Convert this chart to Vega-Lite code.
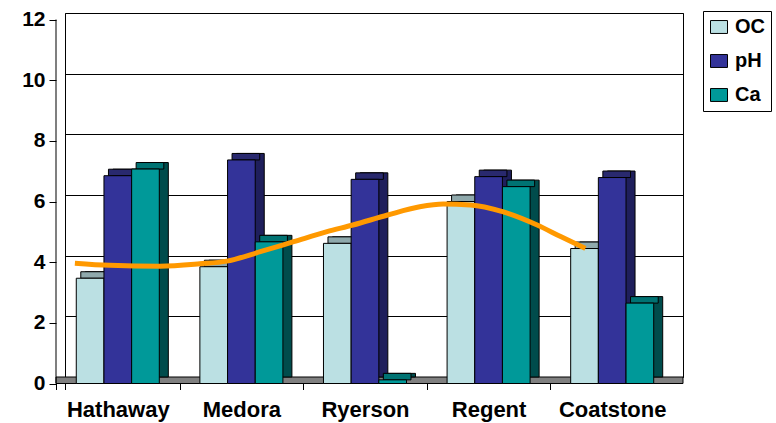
{
  "$schema": "https://vega.github.io/schema/vega-lite/v6.json",
  "width": 618,
  "height": 364,
  "autosize": {"type": "none"},
  "padding": {"left": 65, "top": 13, "right": 93, "bottom": 46},
  "background": "white",
  "config": {
    "font": "Liberation Sans",
    "view": {"stroke": "black", "strokeWidth": 1},
    "axis": {"labelFont": "Liberation Sans", "labelFontWeight": "bold", "labelColor": "black", "tickColor": "black", "domainColor": "black", "title": null}
  },
  "datasets": {
    "soil": [
      {"site": "Hathaway", "series": "OC", "value": 3.47},
      {"site": "Hathaway", "series": "pH", "value": 6.85},
      {"site": "Hathaway", "series": "Ca", "value": 7.07},
      {"site": "Medora", "series": "OC", "value": 3.85},
      {"site": "Medora", "series": "pH", "value": 7.37},
      {"site": "Medora", "series": "Ca", "value": 4.67},
      {"site": "Ryerson", "series": "OC", "value": 4.62},
      {"site": "Ryerson", "series": "pH", "value": 6.73},
      {"site": "Ryerson", "series": "Ca", "value": 0.12},
      {"site": "Regent", "series": "OC", "value": 6.0},
      {"site": "Regent", "series": "pH", "value": 6.82},
      {"site": "Regent", "series": "Ca", "value": 6.49},
      {"site": "Coatstone", "series": "OC", "value": 4.45},
      {"site": "Coatstone", "series": "pH", "value": 6.79},
      {"site": "Coatstone", "series": "Ca", "value": 2.65}
    ],
    "trend": [
      {"pos": -0.42, "value": 3.75},
      {"pos": -0.14, "value": 3.68},
      {"pos": 0.27, "value": 3.65},
      {"pos": 0.59, "value": 3.73},
      {"pos": 0.81, "value": 3.82},
      {"pos": 1.08, "value": 4.13},
      {"pos": 1.35, "value": 4.46},
      {"pos": 1.62, "value": 4.79},
      {"pos": 1.83, "value": 5.01},
      {"pos": 2.11, "value": 5.34},
      {"pos": 2.37, "value": 5.61},
      {"pos": 2.56, "value": 5.7},
      {"pos": 2.78, "value": 5.67},
      {"pos": 3.04, "value": 5.45},
      {"pos": 3.32, "value": 5.01},
      {"pos": 3.51, "value": 4.63},
      {"pos": 3.71, "value": 4.24}
    ]
  },
  "layer": [
    {
      "description": "floor of the 3D plot",
      "data": {"values": [{}]},
      "mark": {"type": "rect", "fill": "#808080", "stroke": "black", "strokeWidth": 1, "xOffset": -9, "x2Offset": 0, "y2Offset": 6.5},
      "encoding": {
        "x": {"datum": -0.5, "type": "quantitative", "scale": {"domain": [-0.5, 4.5], "nice": false, "zero": false}, "axis": null},
        "x2": {"datum": 4.5},
        "y": {"datum": 0, "type": "quantitative", "scale": {"domain": [0, 12], "nice": false}, "axis": null},
        "y2": {"datum": 0}
      }
    },
    {
      "description": "front edge of the value axis",
      "data": {"values": [{}]},
      "mark": {"type": "rect", "fill": "black", "xOffset": -9.5, "x2Offset": -8.5, "yOffset": 6.5, "y2Offset": 6.5},
      "encoding": {
        "x": {"datum": -0.5, "type": "quantitative", "scale": {"domain": [-0.5, 4.5], "nice": false, "zero": false}, "axis": null},
        "x2": {"datum": -0.5},
        "y": {"datum": 12, "type": "quantitative", "scale": {"domain": [0, 12], "nice": false}, "axis": null},
        "y2": {"datum": 0}
      }
    },
    {
      "description": "back/side face of each bar",
      "data": {"name": "soil"},
      "mark": {"type": "bar", "stroke": "black", "strokeWidth": 1},
      "encoding": {
        "x": {"field": "site", "type": "nominal", "sort": null, "scale": {"paddingInner": 0, "paddingOuter": 0}, "axis": null},
        "xOffset": {"field": "series", "type": "nominal", "sort": ["OC", "pH", "Ca"], "scale": {"paddingInner": 0, "paddingOuter": 0.733, "align": 0.5}},
        "y": {"field": "value", "type": "quantitative", "stack": null, "scale": {"domain": [0, 12], "nice": false},
          "axis": {"orient": "left", "values": [0, 2, 4, 6, 8, 10, 12], "grid": true, "gridColor": "black", "gridWidth": 1, "gridOpacity": 1, "labels": false, "ticks": false, "domain": false}},
        "y2": {"datum": 0},
        "fill": {
          "condition": [
            {"test": "datum.series === 'OC'", "value": "#6F8B8D"},
            {"test": "datum.series === 'pH'", "value": "#1F1F5C"}
          ],
          "value": "#004C4C"
        }
      }
    },
    {
      "description": "top face of each bar",
      "data": {"name": "soil"},
      "mark": {"type": "bar", "stroke": "black", "strokeWidth": 1, "y2Offset": 6.5},
      "encoding": {
        "x": {"field": "site", "type": "nominal", "sort": null, "scale": {"paddingInner": 0, "paddingOuter": 0}, "axis": null},
        "xOffset": {"field": "series", "type": "nominal", "sort": ["OC", "pH", "Ca"], "scale": {"paddingInner": 0, "paddingOuter": 0.733, "align": 0.389}},
        "y": {"field": "value", "type": "quantitative", "stack": null, "scale": {"domain": [0, 12], "nice": false}, "axis": null},
        "y2": {"field": "value"},
        "fill": {
          "condition": [
            {"test": "datum.series === 'OC'", "value": "#8FA9AC"},
            {"test": "datum.series === 'pH'", "value": "#29296E"}
          ],
          "value": "#007373"
        }
      }
    },
    {
      "description": "front face of each bar",
      "data": {"name": "soil"},
      "mark": {"type": "bar", "stroke": "black", "strokeWidth": 1, "yOffset": 6.5, "y2Offset": 6.5},
      "encoding": {
        "x": {"field": "site", "type": "nominal", "sort": null, "scale": {"paddingInner": 0, "paddingOuter": 0},
          "axis": {"orient": "bottom", "offset": 6.5, "bandPosition": 0, "tickExtra": true, "tickOffset": -9, "labelOffset": 0, "domain": false, "tickSize": 6, "labelFontSize": 22, "labelPadding": 10, "labelAngle": 0}},
        "xOffset": {"field": "series", "type": "nominal", "sort": ["OC", "pH", "Ca"], "scale": {"paddingInner": 0, "paddingOuter": 0.733, "align": 0.278}},
        "y": {"field": "value", "type": "quantitative", "stack": null, "scale": {"domain": [0, 12], "nice": false},
          "axis": {"orient": "left", "offset": 9, "values": [0, 2, 4, 6, 8, 10, 12], "grid": false, "domain": false, "tickOffset": 6.5, "labelOffset": 0, "tickSize": 7, "labelFontSize": 21, "labelPadding": 4}},
        "y2": {"datum": 0},
        "color": {
          "field": "series", "type": "nominal", "sort": ["OC", "pH", "Ca"],
          "scale": {"domain": ["OC", "pH", "Ca"], "range": ["#BBE0E3", "#333399", "#009999"]},
          "legend": {
            "orient": "none", "legendX": 638, "legendY": -2, "title": null, "direction": "vertical",
            "symbolType": "M-1,-0.76L1,-0.76L1,0.76L-1,0.76Z", "symbolSize": 289, "symbolStrokeColor": "black", "symbolStrokeWidth": 1,
            "labelFont": "Liberation Sans", "labelFontWeight": "bold", "labelFontSize": 20, "labelColor": "black", "labelOffset": 6,
            "strokeColor": "black", "fillColor": "white", "padding": 6, "rowPadding": 14
          }
        }
      }
    },
    {
      "description": "smoothed OC trend",
      "data": {"name": "trend"},
      "mark": {"type": "line", "color": "#FF9900", "strokeWidth": 5, "interpolate": "monotone", "strokeCap": "butt"},
      "encoding": {
        "x": {"field": "pos", "type": "quantitative", "scale": {"domain": [-0.5, 4.5], "nice": false, "zero": false}, "axis": null},
        "y": {"field": "value", "type": "quantitative", "scale": {"domain": [0, 12], "nice": false}, "axis": null}
      }
    }
  ],
  "resolve": {"scale": {"x": "independent", "xOffset": "independent"}, "axis": {"x": "independent", "y": "independent"}}
}
